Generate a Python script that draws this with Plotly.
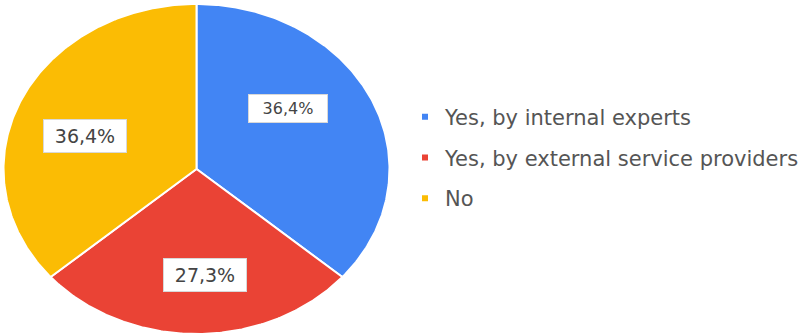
import numpy as np
import plotly.graph_objects as go

categories = ["Yes, by internal experts", "Yes, by external service providers", "No"]
values = [36.4, 27.3, 36.4]
labels = ["36,4%", "27,3%", "36,4%"]
colors = ["#4285F4", "#EA4335", "#FBBC04"]

W, H = 809, 333
cx, cy = 196.5, 169.0      # ellipse center in pixels (from top-left)
rx, ry = 193.0, 165.0      # semi-axes in pixels

fig = go.Figure()

vals = np.array(values, dtype=float)
fr = vals / vals.sum()
start = 0.0
label_pos = []
for i, f in enumerate(fr):
    a0 = start * 2 * np.pi
    a1 = (start + f) * 2 * np.pi
    th = np.linspace(a0, a1, 200)
    xs = np.concatenate([[0], np.sin(th), [0]])
    ys = np.concatenate([[0], np.cos(th), [0]])
    fig.add_trace(go.Scatter(
        x=xs, y=ys, mode="lines", fill="toself", fillcolor=colors[i],
        line=dict(color="white", width=2), hoverinfo="skip", showlegend=False))
    mid = (a0 + a1) / 2
    label_pos.append((0.62 * np.sin(mid), 0.62 * np.cos(mid)))
    start += f

# legend entries
for i, c in enumerate(categories):
    fig.add_trace(go.Scatter(
        x=[None], y=[None], mode="markers", name=c, legendgroup=str(i),
        marker=dict(symbol="square", size=6, color=colors[i])))

# (xshift, yshift, font size, box width)
shifts = [(-17, 18, 16, 70), (8, -4, 19, 72), (-3, -9, 19, 72)]
for (lx, ly), txt, (dx, dy, fs, bw) in zip(label_pos, labels, shifts):
    fig.add_annotation(
        x=lx, y=ly, text=txt, showarrow=False, xshift=dx, yshift=dy,
        font=dict(family="DejaVu Sans", size=fs, color="#444444"),
        bgcolor="white", bordercolor="#d8d8d8", borderwidth=1,
        borderpad=5 if fs > 17 else 4, width=bw, align="center")

fig.update_layout(
    width=W, height=H,
    margin=dict(l=0, r=0, t=0, b=0),
    paper_bgcolor="white", plot_bgcolor="white",
    xaxis=dict(range=[-cx / rx, (W - cx) / rx], visible=False, fixedrange=True),
    yaxis=dict(range=[-(H - cy) / ry, cy / ry], visible=False, fixedrange=True),
    showlegend=True,
    legend=dict(x=(445 - 40) / W, y=(H - 96.5) / H, xanchor="left", yanchor="top",
                font=dict(family="DejaVu Sans", size=21, color="#555555"),
                tracegroupgap=10.5, itemwidth=30, bgcolor="rgba(0,0,0,0)"),
)

fig.write_html("out.html")
